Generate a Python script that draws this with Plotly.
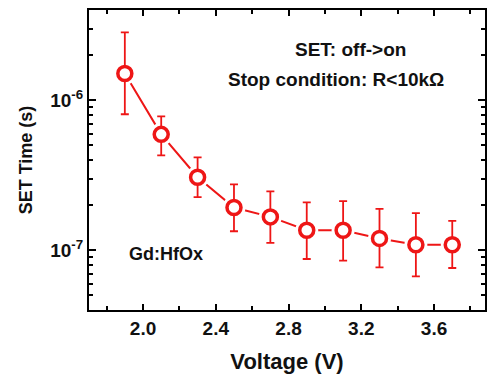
import plotly.graph_objects as go

voltage = [1.9, 2.1, 2.3, 2.5, 2.7, 2.9, 3.1, 3.3, 3.5, 3.7]
set_time = [1.51e-6, 5.93e-7, 3.07e-7, 1.93e-7, 1.67e-7, 1.36e-7, 1.36e-7, 1.20e-7, 1.09e-7, 1.09e-7]
err_top = [2.84e-6, 7.82e-7, 4.17e-7, 2.75e-7, 2.47e-7, 2.09e-7, 2.13e-7, 1.89e-7, 1.77e-7, 1.57e-7]
err_bottom = [8.07e-7, 4.30e-7, 2.26e-7, 1.34e-7, 1.12e-7, 8.75e-8, 8.54e-8, 7.70e-8, 6.71e-8, 7.62e-8]

x_ticks = [2.0, 2.4, 2.8, 3.2, 3.6]
y_ticks = [1e-7, 1e-6]
y_ticktext = ["10<sup>-7</sup>", "10<sup>-6</sup>"]
y_minor = [m * 10 ** e for e in (-8, -7, -6) for m in range(2, 10)]

RED = "#ee1616"
FONT = "Liberation Sans, Arial, sans-serif"
TXT = "#111"

plus = [t - v for t, v in zip(err_top, set_time)]
minus = [v - b for v, b in zip(set_time, err_bottom)]

fig = go.Figure()
fig.add_trace(go.Scatter(x=voltage, y=set_time, mode="lines",
                         line=dict(color=RED, width=2), hoverinfo="skip"))
fig.add_trace(go.Scatter(x=voltage, y=set_time, mode="markers",
                         marker=dict(color="white", size=23, line=dict(width=0)),
                         hoverinfo="skip"))
fig.add_trace(go.Scatter(
    x=voltage, y=set_time, mode="markers",
    marker=dict(symbol="circle", color="white", size=14,
                line=dict(color=RED, width=3.5)),
    error_y=dict(type="data", symmetric=False, array=plus, arrayminus=minus,
                 color=RED, thickness=1.8, width=4),
))
# invisible trace attached to the minor-tick overlay axis
fig.add_trace(go.Scatter(x=voltage, y=set_time, mode="markers", yaxis="y2",
                         marker=dict(opacity=0), hoverinfo="skip"))

L, R, T, B = 89, 1, 10, 67
W, H = 488, 377
pw, ph = W - L - R, H - T - B

def px(x):
    return (x - L) / pw

def py(y):
    return (H - B - y) / ph

def note(text, x, y, size):
    fig.add_annotation(text=text, x=px(x), y=py(y), xref="paper", yref="paper",
                       xanchor="center", yanchor="middle", showarrow=False,
                       font=dict(size=size, color=TXT, family=FONT))

note("<b>SET: off-&gt;on</b>", 352, 50, 19)
note("<b>Stop condition: R&lt;10kΩ</b>", 337, 80, 19)
note("<b>Gd:HfOx</b>", 166, 254, 18)

yr = [-7.398, -5.398]

fig.update_layout(
    width=W, height=H,
    margin=dict(l=L, r=R, t=T, b=B),
    paper_bgcolor="white", plot_bgcolor="white",
    showlegend=False,
    font=dict(family=FONT, color=TXT),
    xaxis=dict(
        range=[1.703, 3.88], tickmode="array", tickvals=x_ticks,
        ticktext=[f"<b>{v:.1f}</b>" for v in x_ticks],
        ticks="inside", ticklen=6, tickwidth=2, tickcolor="black",
        minor=dict(ticks="inside", ticklen=4, tickwidth=2, dtick=0.2, tick0=1.8, tickcolor="black"),
        showline=True, linewidth=2, linecolor="black", mirror="ticks",
        showgrid=False, zeroline=False,
        tickfont=dict(size=19, family=FONT, color=TXT),
        title=dict(text="<b>Voltage (V)</b>", font=dict(size=22, family=FONT, color=TXT), standoff=16),
    ),
    yaxis=dict(
        type="log", range=yr, tickmode="array", tickvals=y_ticks,
        ticktext=[f"<b>{t}</b>" for t in y_ticktext],
        ticks="inside", ticklen=7, tickwidth=2, tickcolor="black",
        showline=True, linewidth=2, linecolor="black", mirror="ticks",
        showgrid=False, zeroline=False,
        tickfont=dict(size=19, family=FONT, color=TXT),
        title=dict(text="<b>SET Time (s)</b>", font=dict(size=18, family=FONT, color=TXT), standoff=13),
    ),
    yaxis2=dict(
        type="log", range=yr, overlaying="y", side="left", anchor="x",
        tickmode="array", tickvals=y_minor, showticklabels=False,
        ticks="inside", ticklen=4, tickwidth=2, tickcolor="black",
        showline=False, mirror="ticks", showgrid=False, zeroline=False,
    ),
)

fig.write_html("out.html")
